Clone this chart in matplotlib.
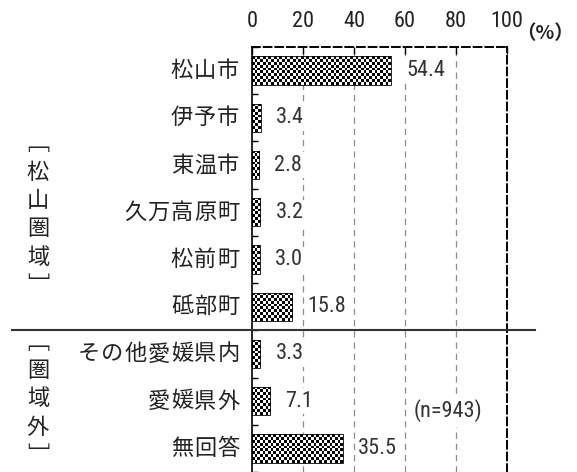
import matplotlib
matplotlib.use("Agg")
import matplotlib.pyplot as plt
import matplotlib.transforms as mtransforms
from matplotlib import font_manager
import numpy as np

plt.rcParams['font.family'] = ['Noto Sans CJK JP', 'DejaVu Sans']

# residence of respondents (%)
places = ['松山市', '伊予市', '東温市', '久万高原町', '松前町', '砥部町',
          'その他愛媛県内', '愛媛県外', '無回答']
shares = [54.4, 3.4, 2.8, 3.2, 3.0, 15.8, 3.3, 7.1, 35.5]
groups = ['松山圏域', '圏域外']
sample_note = '(n=943)'

# narrow face for the numbers if one is installed
installed = {f.name for f in font_manager.fontManager.ttflist}
num_font = [n for n in ['Liberation Sans Narrow', 'Roboto Condensed', 'Open Sans Condensed']
            if n in installed] + ['Liberation Sans', 'DejaVu Sans']
num_stretch = 'normal' if num_font[0] != 'Liberation Sans' else 'condensed'

fig = plt.figure(figsize=(5.77, 4.72), dpi=100)
ax = fig.add_axes([252 / 577, 0.0, 255 / 577, 425 / 472])

y = np.arange(len(places))
bars = ax.barh(y, shares, height=0.6, color='none', edgecolor='black',
               linewidth=0.6, zorder=3)
ax.set_xlim(0, 100)
ax.set_ylim(len(places) - 0.5, -0.5)

# fill each bar with a fine checkerboard
cell = 2.7  # px
for b in bars:
    x0, y0 = b.get_x(), b.get_y()
    w, h = b.get_width(), b.get_height()
    nx = max(2, int(round(w * 2.55 / cell)))
    ny = int(round(h * 47 / cell))
    board = (np.add.outer(np.arange(ny), np.arange(nx)) % 2).astype(float)
    im = ax.imshow(board, cmap='gray', interpolation='nearest', aspect='auto',
                   extent=(x0, x0 + w, y0 + h, y0), zorder=2.5)
    im.set_clip_path(b)
ax.set_xlim(0, 100)
ax.set_ylim(len(places) - 0.5, -0.5)

# value labels
for yi, v in zip(y, shares):
    ax.annotate(f'{v:.1f}', xy=(v, yi), xytext=(11, 0), textcoords='offset points',
                ha='left', va='center', fontsize=16, family=num_font, stretch=num_stretch,
                color='#333333',
                bbox=dict(boxstyle='square,pad=0.1', fc='white', ec='none'), zorder=4)

# category labels, spaced out character by character
adv = 23.2 * 0.72
for yi, name in zip(y, places):
    for i, ch in enumerate(reversed(name)):
        ax.annotate(ch, xy=(0, yi), xycoords=('axes fraction', 'data'),
                    xytext=(-(12 * 0.72 + adv / 2 + i * adv), 0), textcoords='offset points',
                    ha='center', va='center', fontsize=16, color='#222222')

# grid and frame
ax.xaxis.tick_top()
ax.set_xticks(np.arange(0, 101, 20))
ax.tick_params(axis='x', direction='in', length=5, width=1, pad=11,
               labelsize=16, colors='black', labelcolor='#222222')
for lab in ax.get_xticklabels():
    lab.set_family(num_font)
    lab.set_stretch(num_stretch)
for gx in [20, 40, 60, 80]:
    ax.axvline(gx, color='#8c8c8c', lw=0.9, ls=(0, (5, 4)), zorder=1)
ax.set_yticks([])
ax.set_yticks(np.arange(len(places) + 1) - 0.5, minor=True)
ax.tick_params(axis='y', which='minor', direction='in', length=4, width=1, left=True)
ax.spines['left'].set_linewidth(1.2)
for s in ['top', 'right']:
    ax.spines[s].set_linestyle((0, (4, 2)))
    ax.spines[s].set_linewidth(1.4)
ax.spines['bottom'].set_visible(False)

fig.text(545 / 577, 1 - 34 / 472, '（%）', ha='center', va='center', fontsize=14,
         fontweight='bold', color='#222222')

# line separating the two areas
split = 5.5
trans = mtransforms.blended_transform_factory(fig.transFigure, ax.transData)
ax.plot([12 / 577, 535 / 577], [split, split], color='#333333', lw=1.5,
        transform=trans, clip_on=False, zorder=5)

# vertical group captions
def vertical_caption(text, center):
    chars = ['﹇'] + list(text) + ['﹈']
    step = 0.6
    start = center - step * (len(chars) - 1) / 2
    for k, ch in enumerate(chars):
        ax.text(38 / 577, start + k * step, ch, transform=trans, ha='center',
                va='center', fontsize=16, color='#222222')

vertical_caption(groups[0], 3.05)
vertical_caption(groups[1], 6.95)

ax.text(77, 7.2, sample_note, ha='center', va='center', fontsize=16, family=num_font,
        stretch=num_stretch, color='#333333',
        bbox=dict(boxstyle='square,pad=0.2', fc='white', ec='none'), zorder=4)

fig.savefig('out.png', dpi=100)
